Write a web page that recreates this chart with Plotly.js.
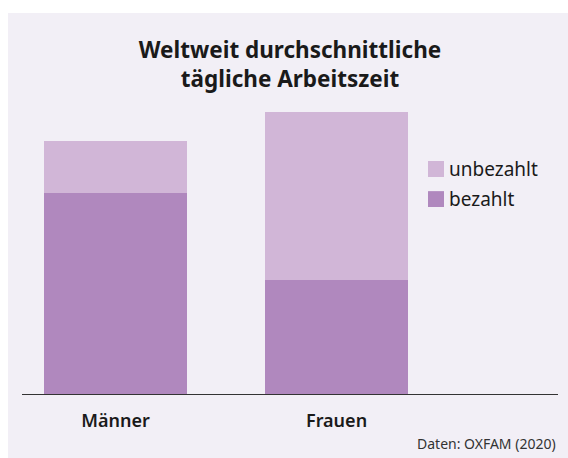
<!DOCTYPE html>
<html>
<head>
<meta charset="utf-8">
<script src="https://cdn.plot.ly/plotly-3.0.1.min.js"></script>
<style>
  html, body { margin: 0; padding: 0; background: #ffffff; }
  #chart { position: absolute; left: 8px; top: 13px; width: 560px; height: 445px; }
</style>
</head>
<body>
<div id="chart"></div>
<script>
// Data (hours per day)
const categories = ['Männer', 'Frauen'];
const bezahlt = [6.7, 3.8];
const unbezahlt = [1.75, 5.6];
const seriesNames = ['unbezahlt', 'bezahlt'];
const titleText = 'Weltweit durchschnittliche<br>tägliche Arbeitszeit';
const sourceText = 'Daten: OXFAM (2020)';

const colPaid = '#b088be';
const colUnpaid = '#d1b6d7';
const bg = '#f2eff6';
const font = 'Noto Sans, Open Sans, sans-serif';

const traces = [
  { type: 'bar', x: categories, y: bezahlt, name: seriesNames[1],
    marker: { color: colPaid, line: { width: 0 } }, hoverinfo: 'skip' },
  { type: 'bar', x: categories, y: unbezahlt, name: seriesNames[0],
    marker: { color: colUnpaid, line: { width: 0 } }, hoverinfo: 'skip' }
];

const layout = {
  width: 560, height: 445,
  paper_bgcolor: bg, plot_bgcolor: bg,
  margin: { l: 14, r: 10, t: 87, b: 64 },
  barmode: 'stack',
  bargap: 0.353,
  showlegend: false,
  title: {
    text: titleText,
    x: 0.5, xref: 'paper', xanchor: 'center',
    y: 0.899, yref: 'container', yanchor: 'middle',
    font: { family: font, size: 22.5, color: '#1a1a1a', weight: 700 }
  },
  xaxis: {
    type: 'category',
    range: [-0.423, 2.002],
    showline: true, linecolor: '#333333', linewidth: 1,
    showgrid: false, zeroline: false, ticks: '',
    ticklabelstandoff: 10,
    tickfont: { family: font, size: 18, color: '#1a1a1a', weight: 600 },
    fixedrange: true
  },
  yaxis: {
    range: [0, 9.8],
    visible: false, showgrid: false, zeroline: false, fixedrange: true
  },
  shapes: [
    { type: 'rect', xref: 'paper', yref: 'paper', x0: 0.7575, x1: 0.7873, y0: 0.738, y1: 0.7925,
      fillcolor: colUnpaid, line: { width: 0 } },
    { type: 'rect', xref: 'paper', yref: 'paper', x0: 0.7575, x1: 0.7873, y0: 0.636, y1: 0.690,
      fillcolor: colPaid, line: { width: 0 } }
  ],
  annotations: [
    { text: seriesNames[0], xref: 'paper', yref: 'paper', x: 0.793, y: 0.765,
      xanchor: 'left', yanchor: 'middle', showarrow: false,
      font: { family: font, size: 19, color: '#1a1a1a' } },
    { text: seriesNames[1], xref: 'paper', yref: 'paper', x: 0.793, y: 0.663,
      xanchor: 'left', yanchor: 'middle', showarrow: false,
      font: { family: font, size: 19, color: '#1a1a1a' } },
    { text: sourceText, xref: 'paper', yref: 'paper', x: 1, y: -0.168,
      xanchor: 'right', yanchor: 'middle', showarrow: false,
      font: { family: font, size: 14, color: '#333333' } }
  ]
};

Plotly.newPlot('chart', traces, layout, { displayModeBar: false, staticPlot: true });
</script>
</body>
</html>
